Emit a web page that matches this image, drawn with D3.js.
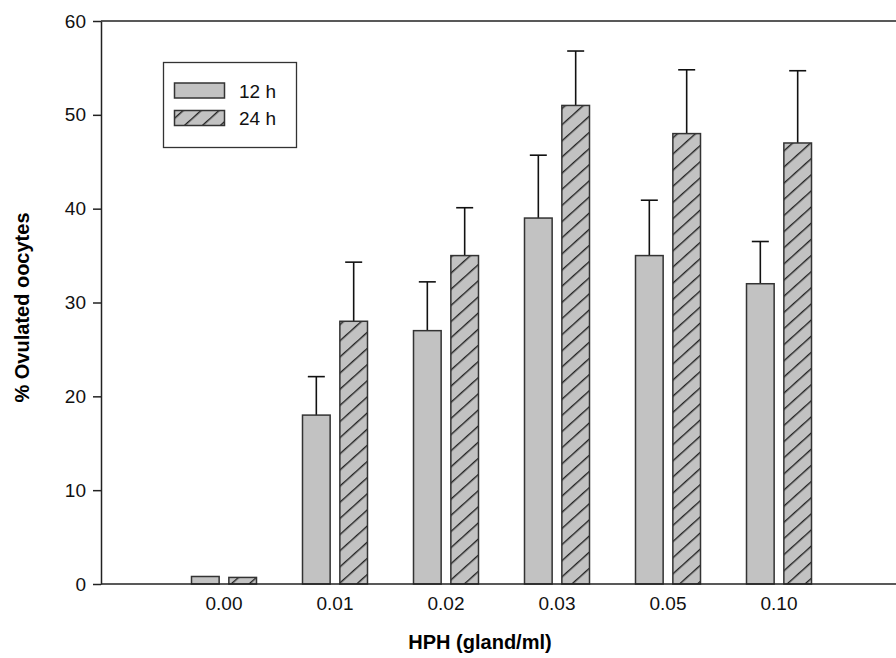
<!DOCTYPE html>
<html>
<head>
<meta charset="utf-8">
<script src="https://cdn.jsdelivr.net/npm/d3@7"></script>
<style>
  body { margin: 0; background: #fff; }
  text { font-family: "Liberation Sans", Arial, sans-serif; }
</style>
</head>
<body>
<div id="chart"></div>
<script>
const doses = ["0.00", "0.01", "0.02", "0.03", "0.05", "0.10"];
const series = ["12 h", "24 h"];
const mean12 = [0.8, 18, 27, 39, 35, 32];
const err12 = [0, 4.1, 5.2, 6.7, 5.9, 4.5];
const mean24 = [0.7, 28, 35, 51, 48, 47];
const err24 = [0, 6.3, 5.1, 5.8, 6.8, 7.7];
const yTicks = [0, 10, 20, 30, 40, 50, 60];

const W = 896, H = 658;
const axisLeft = 101, axisBottom = 584, axisTop = 21;

const svg = d3.select("#chart").append("svg")
  .attr("width", W).attr("height", H);

const defs = svg.append("defs");
const pat = defs.append("pattern")
  .attr("id", "hatch")
  .attr("patternUnits", "userSpaceOnUse")
  .attr("width", 10).attr("height", 12)
  .attr("patternTransform", "rotate(-42)");
pat.append("rect").attr("width", 10).attr("height", 12).attr("fill", "#c2c2c2");
pat.append("line").attr("x1", 0).attr("x2", 10).attr("y1", 0.7).attr("y2", 0.7)
  .attr("stroke", "#222").attr("stroke-width", 1.4);

const x = d3.scaleBand().domain(doses).range([168.5, 834.5]).padding(0);
const xs = d3.scaleBand().domain(series).range([-32.5, 32.5]).paddingInner(0.26);
const y = d3.scaleLinear().domain([0, 60]).range([axisBottom, axisTop]);

const data = [];
doses.forEach((d, i) => {
  data.push({ dose: d, s: "12 h", v: mean12[i], e: err12[i] });
  data.push({ dose: d, s: "24 h", v: mean24[i], e: err24[i] });
});

const bx = d => x(d.dose) + x.bandwidth() / 2 + xs(d.s);

// error bars (upper only)
const eb = svg.append("g").selectAll("g").data(data.filter(d => d.e > 0)).enter().append("g");
eb.append("line")
  .attr("x1", d => bx(d) + xs.bandwidth() / 2).attr("x2", d => bx(d) + xs.bandwidth() / 2)
  .attr("y1", d => y(d.v)).attr("y2", d => y(d.v + d.e))
  .attr("stroke", "#111").attr("stroke-width", 1.6);
eb.append("line")
  .attr("x1", d => bx(d) + xs.bandwidth() / 2 - 8.5).attr("x2", d => bx(d) + xs.bandwidth() / 2 + 8.5)
  .attr("y1", d => y(d.v + d.e)).attr("y2", d => y(d.v + d.e))
  .attr("stroke", "#111").attr("stroke-width", 1.6);

// bars
svg.append("g").selectAll("rect").data(data).enter().append("rect")
  .attr("x", d => bx(d))
  .attr("y", d => y(d.v))
  .attr("width", xs.bandwidth())
  .attr("height", d => y(0) - y(d.v))
  .attr("fill", d => d.s === "12 h" ? "#c2c2c2" : "url(#hatch)")
  .attr("stroke", "#333").attr("stroke-width", 1.5);

// y axis
const gy = svg.append("g").attr("transform", `translate(${axisLeft},0)`)
  .call(d3.axisLeft(y).tickValues(yTicks).tickSize(8).tickPadding(7).tickSizeOuter(0));
gy.select(".domain").attr("stroke", "#222").attr("stroke-width", 1.5);
gy.selectAll(".tick line").attr("stroke", "#222").attr("stroke-width", 1.5);
gy.selectAll(".tick text").style("font-size", "19px").attr("fill", "#111");

// x axis
const gx = svg.append("g").attr("transform", `translate(0,${axisBottom})`)
  .call(d3.axisBottom(x).tickSize(0).tickPadding(13));
gx.select(".domain").attr("d", `M${axisLeft},0H${W}`).attr("stroke", "#222").attr("stroke-width", 1.5);
gx.selectAll(".tick text").style("font-size", "19px").attr("fill", "#111");

// top frame line
svg.append("line").attr("x1", axisLeft).attr("x2", W)
  .attr("y1", axisTop).attr("y2", axisTop)
  .attr("stroke", "#222").attr("stroke-width", 1.5);

// axis titles
svg.append("text")
  .attr("x", 480).attr("y", 649)
  .attr("text-anchor", "middle")
  .style("font-size", "20px").style("font-weight", "bold")
  .text("HPH (gland/ml)");

svg.append("text")
  .attr("transform", `translate(29,${(axisTop + axisBottom) / 2 + 5}) rotate(-90)`)
  .attr("text-anchor", "middle")
  .style("font-size", "20px").style("font-weight", "bold")
  .text("% Ovulated oocytes");

// legend
const lg = svg.append("g");
lg.append("rect").attr("x", 163.5).attr("y", 62.5).attr("width", 133).attr("height", 85)
  .attr("fill", "#fff").attr("stroke", "#333").attr("stroke-width", 1.3);
series.forEach((s, i) => {
  lg.append("rect")
    .attr("x", 174.5).attr("y", 83 + i * 27.5).attr("width", 50).attr("height", 15)
    .attr("fill", i === 0 ? "#c2c2c2" : "url(#hatch)")
    .attr("stroke", "#333").attr("stroke-width", 1.5);
  lg.append("text")
    .attr("x", 239).attr("y", 97.5 + i * 27.5)
    .style("font-size", "19px").attr("fill", "#111")
    .text(s);
});
</script>
</body>
</html>
